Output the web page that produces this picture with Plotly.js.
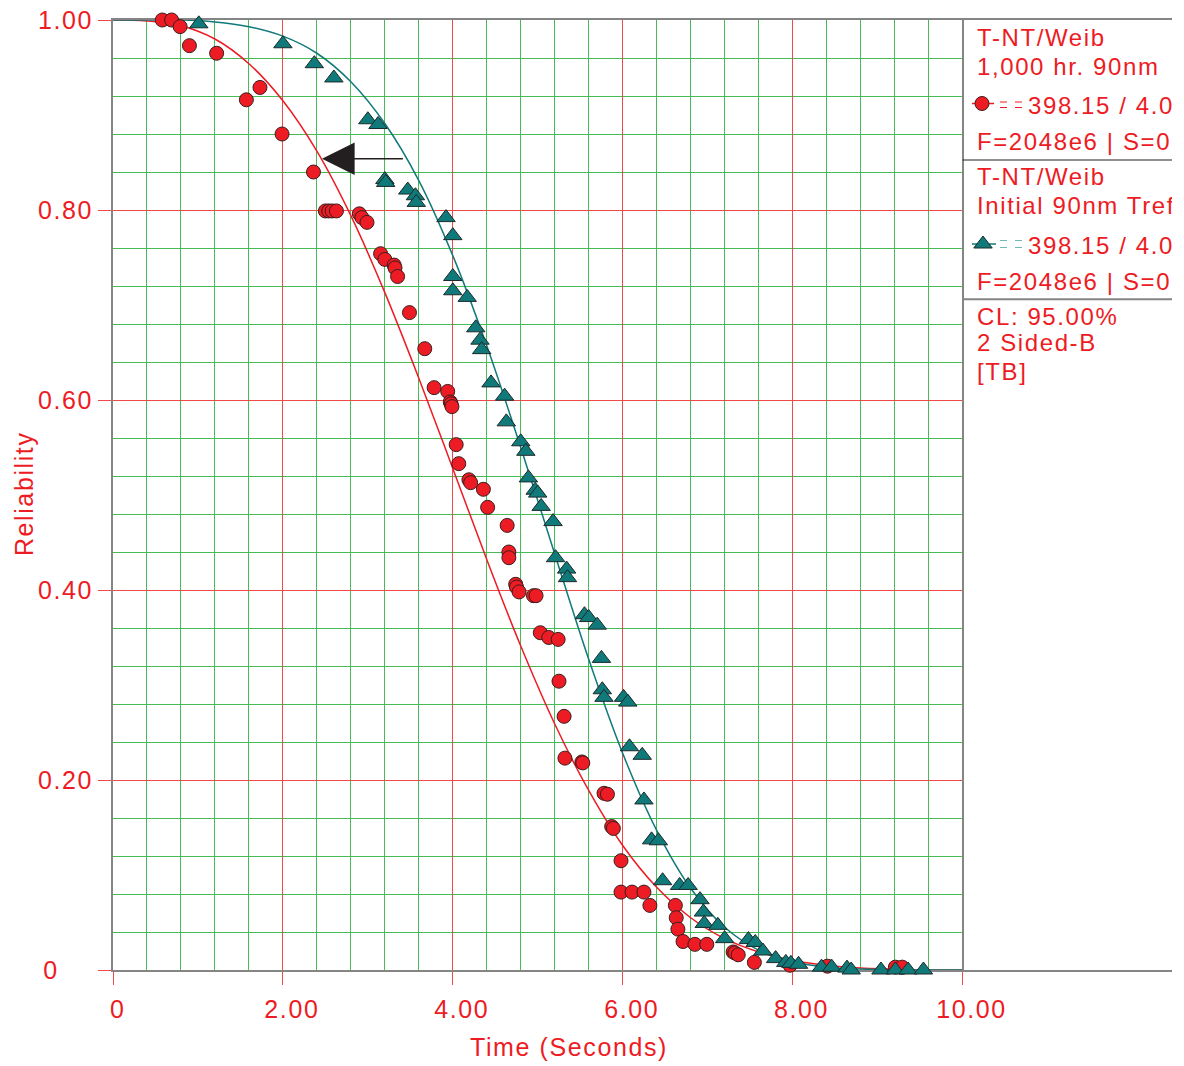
<!DOCTYPE html>
<html>
<head>
<meta charset="utf-8">
<script src="https://cdn.plot.ly/plotly-3.0.1.min.js"></script>
<style>
  html, body { margin: 0; padding: 0; background: #ffffff; }
  svg text { letter-spacing: 1.6px; }
</style>
</head>
<body>
<div id="chart" style="width:1184px;height:1066px;"></div>
<script>
// ---------- data ----------
// "1,000 hr. 90nm" (red circles) : time (s) and reliability
const hotTime = [0.58,0.69,0.79,0.90,1.22,1.57,1.73,1.99,2.36,2.50,2.54,2.58,2.63,2.90,2.93,2.99,3.15,3.20,3.31,3.32,3.35,3.49,3.67,3.78,3.94,3.97,3.98,3.99,4.04,4.07,4.19,4.21,4.36,4.41,4.64,4.66,4.66,4.74,4.75,4.78,4.95,4.98,5.03,5.13,5.24,5.25,5.31,5.32,5.52,5.53,5.78,5.82,5.87,5.89,5.98,5.98,6.11,6.25,6.32,6.62,6.63,6.65,6.71,6.85,6.99,7.30,7.32,7.36,7.55,7.97,8.41,9.21,9.29];
const hotRel  = [1.000,1.000,0.993,0.973,0.965,0.916,0.929,0.880,0.840,0.799,0.799,0.799,0.799,0.796,0.792,0.787,0.754,0.748,0.742,0.739,0.730,0.692,0.654,0.613,0.609,0.598,0.596,0.593,0.553,0.533,0.516,0.513,0.506,0.487,0.468,0.440,0.434,0.406,0.403,0.398,0.394,0.394,0.355,0.350,0.348,0.304,0.267,0.223,0.219,0.218,0.186,0.185,0.151,0.149,0.115,0.082,0.082,0.082,0.068,0.068,0.055,0.043,0.030,0.027,0.027,0.019,0.018,0.016,0.008,0.005,0.004,0.003,0.003];

// "Initial 90nm Tref" (teal triangles)
const initTime = [1.01,2.00,2.37,2.60,3.00,3.12,3.20,3.21,3.47,3.56,3.57,3.92,4.00,4.00,4.00,4.17,4.27,4.32,4.34,4.45,4.61,4.63,4.80,4.86,4.89,4.97,5.00,5.04,5.18,5.21,5.34,5.35,5.55,5.60,5.70,5.75,5.76,5.78,6.01,6.06,6.08,6.23,6.25,6.34,6.42,6.47,6.67,6.77,6.91,6.95,6.96,7.12,7.20,7.48,7.56,7.65,7.80,7.92,7.98,8.07,8.34,8.46,8.64,8.69,9.04,9.21,9.36,9.54];
const initRel  = [0.996,0.975,0.954,0.939,0.895,0.890,0.832,0.829,0.821,0.815,0.808,0.792,0.773,0.730,0.715,0.708,0.676,0.663,0.653,0.618,0.604,0.577,0.556,0.546,0.518,0.505,0.502,0.488,0.472,0.434,0.422,0.413,0.374,0.371,0.363,0.328,0.295,0.287,0.287,0.282,0.235,0.226,0.179,0.137,0.136,0.094,0.089,0.089,0.074,0.061,0.049,0.047,0.033,0.032,0.029,0.020,0.012,0.008,0.007,0.006,0.003,0.003,0.002,0.000,0.000,0.000,0.000,0.000];

// fitted reliability lines
const curveTime = [0,0.4,0.8,1.2,1.6,2.0,2.4,2.8,3.2,3.6,4.0,4.4,4.8,5.2,5.6,6.0,6.4,6.8,7.2,7.6,8.0,8.4,8.8,9.2,9.6,10.0];
const hotCurve  = [1.000,0.999,0.994,0.980,0.954,0.915,0.862,0.794,0.713,0.623,0.528,0.432,0.341,0.259,0.189,0.131,0.087,0.055,0.033,0.019,0.010,0.005,0.002,0.001,0.000,0.000];
const initCurve = [1.000,1.000,1.000,0.998,0.993,0.983,0.965,0.935,0.891,0.831,0.752,0.657,0.550,0.438,0.327,0.228,0.147,0.086,0.045,0.021,0.009,0.003,0.001,0.000,0.000,0.000];

// legend panel texts
const legendLines = ["T-NT/Weib","1,000 hr. 90nm","F=2048e6 | S=0","T-NT/Weib","Initial 90nm Tref","F=2048e6 | S=0","CL: 95.00%","2 Sided-B","[TB]"];
const legendValue = "398.15 / 4.0";
const xTitle = "Time (Seconds)";
const yTitle = "Reliability";

// ---------- style ----------
const FONT = "Liberation Sans, Arial, Helvetica, sans-serif";
const RED = "#ed1c24";
const TEAL = "#0f7a79";
const GRAY = "#858585";
const GRID_RED = "#ef4a4a";
const GRID_GREEN = "#46bb56";

// layout-only positions for the legend panel (pixel coordinates of panel axis)
const legendY = [39.6, 69.3, 143.6, 179.3, 208.4, 283.6, 318.6, 344.6, 373.5];
const legendX = legendY.map(() => 977);

const traces = [
  { x: curveTime, y: hotCurve, mode: 'lines', line: { color: RED, width: 1.5, shape: 'spline' }, hoverinfo: 'skip' },
  { x: curveTime, y: initCurve, mode: 'lines', line: { color: TEAL, width: 1.5, shape: 'spline' }, hoverinfo: 'skip' },
  { x: hotTime, y: hotRel, mode: 'markers', cliponaxis: false,
    marker: { symbol: 'circle', size: 14, color: RED, line: { color: '#3a1d1d', width: 1 } } },
  { x: initTime, y: initRel, mode: 'markers', cliponaxis: false,
    marker: { symbol: 'triangle-up', size: 16, color: TEAL, line: { color: '#1c2a2a', width: 1 } } },

  // legend panel (second subplot, pixel-like coordinates)
  { x: legendX, y: legendY, mode: 'text', text: legendLines, textposition: 'middle right',
    textfont: { family: FONT, size: 24, color: RED }, marker: { size: 0 },
    xaxis: 'x2', yaxis: 'y2', cliponaxis: true, hoverinfo: 'skip' },
  { x: [1028, 1028], y: [107.6, 247.6], mode: 'text', text: [legendValue, legendValue], textposition: 'middle right',
    textfont: { family: FONT, size: 24, color: RED }, marker: { size: 0 },
    xaxis: 'x2', yaxis: 'y2', cliponaxis: true, hoverinfo: 'skip' },
  // red legend sample
  { x: [972, 994], y: [103.5, 103.5], mode: 'lines', line: { color: RED, width: 1.5 }, xaxis: 'x2', yaxis: 'y2' },
  { x: [1000, 1022], y: [102, 102], mode: 'lines', line: { color: RED, width: 1, dash: '7px,8px' }, xaxis: 'x2', yaxis: 'y2' },
  { x: [1000, 1022], y: [107.5, 107.5], mode: 'lines', line: { color: RED, width: 1, dash: '7px,8px' }, xaxis: 'x2', yaxis: 'y2' },
  { x: [982], y: [103.5], mode: 'markers', marker: { symbol: 'circle', size: 14, color: RED, line: { color: '#3a1d1d', width: 1 } }, xaxis: 'x2', yaxis: 'y2' },
  // teal legend sample
  { x: [972, 996], y: [244, 244], mode: 'lines', line: { color: TEAL, width: 1.5 }, xaxis: 'x2', yaxis: 'y2' },
  { x: [1000, 1022], y: [240.5, 240.5], mode: 'lines', line: { color: '#6fb9b6', width: 1, dash: '7px,8px' }, xaxis: 'x2', yaxis: 'y2' },
  { x: [1000, 1022], y: [247.5, 247.5], mode: 'lines', line: { color: '#6fb9b6', width: 1, dash: '7px,8px' }, xaxis: 'x2', yaxis: 'y2' },
  { x: [983], y: [244], mode: 'markers', marker: { symbol: 'triangle-up', size: 16, color: TEAL, line: { color: '#1c2a2a', width: 1 } }, xaxis: 'x2', yaxis: 'y2' }
];

const tickFont = { family: FONT, size: 25, color: RED };

const layout = {
  width: 1184, height: 1066,
  margin: { l: 113, r: 12, t: 20, b: 96, pad: 0 },
  paper_bgcolor: '#ffffff', plot_bgcolor: '#ffffff',
  showlegend: false,
  font: { family: FONT, color: RED },
  xaxis: {
    domain: [0, 0.80217], range: [0, 10], anchor: 'y',
    tick0: 0, dtick: 2, tickformat: '.2f', labelalias: { '0.00': '0\u00a0' },
    tickfont: tickFont, ticks: 'outside', ticklen: 13, tickwidth: 1, tickcolor: GRID_RED,
    ticklabelshift: 9, ticklabelstandoff: 3,
    showgrid: true, gridcolor: GRID_RED, gridwidth: 1,
    minor: { tick0: 0, dtick: 0.4, showgrid: true, gridcolor: GRID_GREEN, gridwidth: 1, ticks: '' },
    showline: true, linecolor: GRAY, linewidth: 2, mirror: true,
    zeroline: false, layer: 'below traces', fixedrange: true
  },
  yaxis: {
    domain: [0, 1], range: [0, 1], anchor: 'x',
    tick0: 0, dtick: 0.2, tickformat: '.2f', labelalias: { '0.00': '0\u00a0\u00a0\u00a0\u00a0' },
    tickfont: tickFont, ticks: 'outside', ticklen: 13, tickwidth: 1, tickcolor: GRID_RED,
    showgrid: true, gridcolor: GRID_RED, gridwidth: 1,
    minor: { tick0: 0, dtick: 0.04, showgrid: true, gridcolor: GRID_GREEN, gridwidth: 1, ticks: '' },
    showline: true, linecolor: GRAY, linewidth: 2, mirror: true,
    zeroline: false, layer: 'below traces', fixedrange: true
  },
  xaxis2: {
    domain: [0.80217, 1], range: [962.5, 1172], anchor: 'y2',
    showline: true, mirror: true, linecolor: GRAY, linewidth: 2,
    showgrid: false, zeroline: false, showticklabels: false, ticks: '', fixedrange: true
  },
  yaxis2: {
    domain: [0, 1], range: [970, 20], anchor: 'x2',
    showline: false, showgrid: false, zeroline: false, showticklabels: false, ticks: '', fixedrange: true
  },
  shapes: [
    // gray tick extensions at the axis ends
    { type: 'line', xref: 'x', yref: 'y', xsizemode: 'pixel', xanchor: 0, x0: -13, x1: 0, y0: 0, y1: 0, line: { color: GRAY, width: 2 }, layer: 'above' },
    { type: 'line', xref: 'x', yref: 'y', x0: 0, x1: 0, ysizemode: 'pixel', yanchor: 0, y0: 0, y1: -13, line: { color: GRAY, width: 2 }, layer: 'above' },
    { type: 'line', xref: 'x', yref: 'y', x0: 10, x1: 10, ysizemode: 'pixel', yanchor: 0, y0: 0, y1: -13, line: { color: GRAY, width: 2 }, layer: 'above' },
    { type: 'line', xref: 'x', yref: 'y', xsizemode: 'pixel', xanchor: 0, x0: -14, x1: -1.5, y0: 1, y1: 1, line: { color: '#ffffff', width: 3 }, layer: 'above' },
    // legend separators
    { type: 'line', xref: 'x2', yref: 'y2', x0: 962.5, x1: 1172, y0: 160, y1: 160, line: { color: '#231f20', width: 1 } },
    { type: 'line', xref: 'x2', yref: 'y2', x0: 962.5, x1: 1172, y0: 299.3, y1: 299.3, line: { color: GRAY, width: 2 } }
  ],
  annotations: [
    { x: 2.46, y: 0.854, ax: 3.43, ay: 0.854, xref: 'x', yref: 'y', axref: 'x', ayref: 'y',
      text: '', showarrow: true, arrowhead: 2, arrowsize: 4.35, arrowwidth: 1.5, arrowcolor: '#231f20' },
    { text: xTitle, xref: 'paper', yref: 'paper', x: 0.4306, y: -0.0807, xanchor: 'center', yanchor: 'middle',
      showarrow: false, font: { family: FONT, size: 25, color: RED } },
    { text: yTitle, xref: 'paper', yref: 'paper', x: -0.0840, y: 0.501, xanchor: 'center', yanchor: 'middle',
      textangle: -90, showarrow: false, font: { family: FONT, size: 25, color: RED } }
  ]
};

Plotly.newPlot('chart', traces, layout, { displayModeBar: false, staticPlot: true });
</script>
</body>
</html>
